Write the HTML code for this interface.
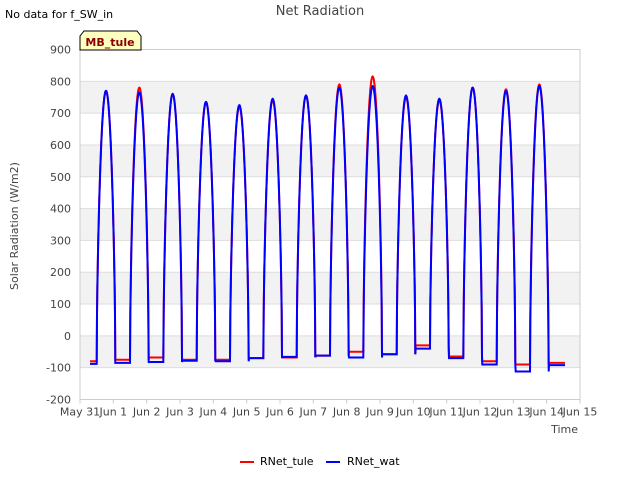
<!DOCTYPE html>
<html><head><meta charset="utf-8"><style>
body{margin:0;background:#fff;font-family:"Liberation Sans","DejaVu Sans",sans-serif;}
svg text{font-family:"DejaVu Sans","Liberation Sans",sans-serif;}
</style></head><body>
<svg id="c" width="640" height="480" viewBox="0 0 640 480" xmlns="http://www.w3.org/2000/svg">
<text x="5" y="18" font-size="11" fill="#000">No data for f_SW_in</text>
<text x="320" y="15" font-size="13" fill="#444" text-anchor="middle">Net Radiation</text>
<g id="plot"></g>
<text x="18" y="226" font-size="11" fill="#444" text-anchor="middle" transform="rotate(-90 18 226)">Solar Radiation (W/m2)</text>
<text x="578" y="433" font-size="11" fill="#444" text-anchor="end">Time</text>
<g>
<line x1="240" y1="462" x2="254" y2="462" stroke="#f00" stroke-width="2"/>
<text x="260" y="465" font-size="11" fill="#000">RNet_tule</text>
<line x1="326" y1="462" x2="340" y2="462" stroke="#00f" stroke-width="2"/>
<text x="347" y="465" font-size="11" fill="#000">RNet_wat</text>
</g>
<g>
<path d="M80,50 L80,36 L84,31 L137,31 L141,36 L141,50 Z" fill="#ffffc0" stroke="#000" stroke-width="1"/>
<text x="110" y="46" font-size="11" font-weight="bold" fill="#8b0000" text-anchor="middle">MB_tule</text>
</g>
</svg>
<script>
const yTicks=[-200,-100,0,100,200,300,400,500,600,700,800,900];
const xTickLabels=["May 31","Jun 1","Jun 2","Jun 3","Jun 4","Jun 5","Jun 6","Jun 7","Jun 8","Jun 9","Jun 10","Jun 11","Jun 12","Jun 13","Jun 14","Jun 15"];
const tulePeaks=[770,780,760,735,720,740,755,790,815,750,740,780,775,790];
const tuleNights=[-80,-75,-68,-75,-75,-70,-68,-62,-50,-58,-30,-65,-80,-90,-85];
const watPeaks=[770,765,760,735,725,745,755,780,785,755,745,780,770,785];
const watNights=[-88,-85,-82,-78,-80,-70,-66,-62,-68,-58,-40,-70,-90,-112,-92];
const L=80,R=580,T=49.5,B=399.5;
const xs=d=>L+(d/15)*(R-L);
const ys=v=>B-(v+200)/1100*(B-T);
const NS="http://www.w3.org/2000/svg";
const plot=document.getElementById('plot');
function mk(tag,attrs){const e=document.createElementNS(NS,tag);for(const k in attrs)e.setAttribute(k,attrs[k]);plot.appendChild(e);return e;}
for(let i=0;i<yTicks.length-1;i++){
  if(i%2===1){const r=mk('rect',{x:L,y:ys(yTicks[i+1]),width:R-L,height:ys(yTicks[i])-ys(yTicks[i+1]),fill:'#f2f2f2'});
  
  }
}
yTicks.forEach(v=>{
  const g=mk('line',{x1:L,x2:R,y1:ys(v),y2:ys(v),stroke:'#ddd','stroke-width':1});
  
  
  const t=mk('text',{x:L-9,y:ys(v)+4,'font-size':11,fill:'#444','text-anchor':'end'});
  t.textContent=v;
  
  
});
const fr=mk('rect',{x:L,y:T,width:R-L,height:B-T,fill:'none',stroke:'#ccc'});


xTickLabels.forEach((s,i)=>{
  const tk=mk('line',{x1:xs(i),x2:xs(i),y1:B,y2:B+4,stroke:'#ccc'});
  
  
  const t=mk('text',{x:xs(i),y:B+16,'font-size':11,fill:'#444','text-anchor':'middle'});
  t.textContent=s;
  
  
});
function series(peaks,nights){
  const pts=[];const t0=0.5,t1=1.06;
  for(let d=0.3;d<=14.55;d+=0.01){
    const di=Math.floor(d-0.5);const ph=d-di;
    let v;
    if(di>=0&&di<peaks.length&&ph>=t0&&ph<=t1){
      const base=nights[di];
      const s=Math.sin(Math.PI*(ph-t0)/(t1-t0));
      v=base+(peaks[di]-base)*Math.pow(Math.max(s,0),0.6);
    } else {
      const ni=Math.min(nights.length-1,Math.max(0,Math.round(d)));
      v=nights[ni];
    }
    pts.push(xs(d).toFixed(1)+','+ys(v).toFixed(1));
  }
  return pts.join(' ');
}
const s1=mk('polyline',{points:series(tulePeaks,tuleNights),fill:'none',stroke:'#f00','stroke-width':2});


const s2=mk('polyline',{points:series(watPeaks,watNights),fill:'none',stroke:'#00f','stroke-width':2});


</script>
</body></html>
